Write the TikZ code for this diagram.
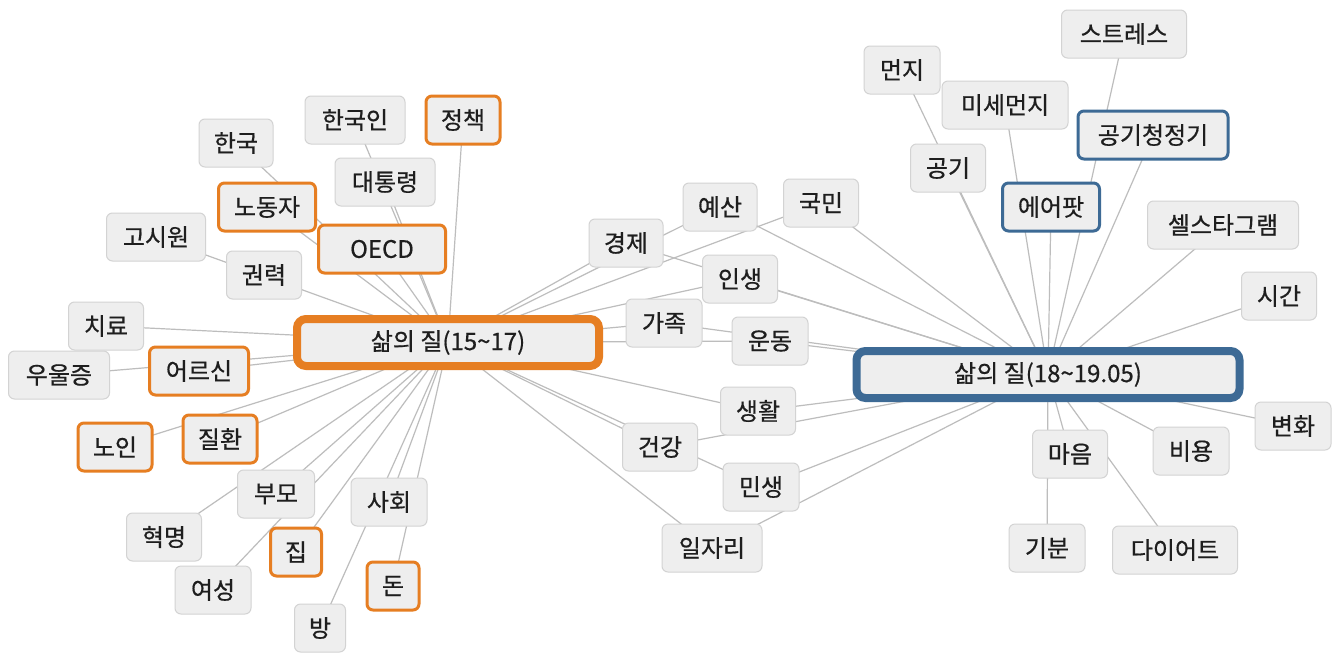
\documentclass[tikz,border=0pt]{standalone}
\usepackage{fontspec}
\setmainfont{Noto Sans CJK KR}
\newfontfamily\kf{Noto Sans CJK KR}[FakeBold=0.6]
\usetikzlibrary{backgrounds}
\definecolor{edgec}{HTML}{BDBDBD}
\definecolor{nfill}{HTML}{EEEEEE}
\definecolor{nline}{HTML}{D3D3D3}
\definecolor{orng}{HTML}{E67E22}
\definecolor{blu}{HTML}{3D6A95}
\definecolor{txt}{HTML}{1E1E1E}
\begin{document}
\begin{tikzpicture}[x=1pt,y=-1pt,
 kw/.style={draw=nline, line width=1pt, fill=nfill, rounded corners=6pt, minimum height=48pt, inner sep=0pt, text=txt, font=\kf\fontsize{24}{28}\selectfont},
 ow/.style={kw, draw=orng, line width=3pt},
 bw/.style={kw, draw=blu, line width=3pt},
 hub/.style={kw, line width=8pt, rounded corners=9pt, minimum height=47pt},
 lnk/.style={draw=edgec, line width=1.2pt}]
\useasboundingbox (0,0) rectangle (1342,654);

% hubs
\node[hub, draw=orng, minimum width=302pt] (L) at (448,342.5) {삶의 질(15\textasciitilde17)};
\node[hub, draw=blu, minimum width=383pt] (R) at (1048,374.5) {삶의 질(18\textasciitilde19.05)};

% left cluster
\node[kw, minimum width=74pt]  (hanguk)   at (236,143) {한국};
\node[kw, minimum width=100pt] (hangukin) at (355,120) {한국인};
\node[ow, minimum width=74pt]  (jeongchaek) at (463,120) {정책};
\node[ow, minimum width=97pt]  (nodongja) at (267,207) {노동자};
\node[kw, minimum width=100pt] (daetong)  at (385,182) {대통령};
\node[kw, minimum width=99pt]  (gosiwon)  at (156,237) {고시원};
\node[ow, minimum width=127pt] (oecd)     at (382,249) {OECD};
\node[kw, minimum width=75pt]  (gwonryeok) at (264,275) {권력};
\node[kw, minimum width=75pt]  (chiryo)   at (106,326) {치료};
\node[kw, minimum width=101pt] (uuljeung) at (59,375) {우울증};
\node[ow, minimum width=99pt]  (eoreusin) at (199,371) {어르신};
\node[ow, minimum width=74pt]  (noin)     at (115,447) {노인};
\node[ow, minimum width=74pt]  (jilhwan)  at (220,439) {질환};
\node[kw, minimum width=77pt]  (bumo)     at (276,494) {부모};
\node[kw, minimum width=76pt]  (sahoe)    at (389,502) {사회};
\node[kw, minimum width=75pt]  (hyeokmyeong) at (164,537) {혁명};
\node[ow, minimum width=51pt]  (jip)      at (296,552) {집};
\node[kw, minimum width=76pt]  (yeoseong) at (213,590) {여성};
\node[ow, minimum width=52pt]  (don)      at (393,586) {돈};
\node[kw, minimum width=51pt]  (bang)     at (320,628) {방};

% middle
\node[kw, minimum width=74pt]  (gyeongje) at (626,243) {경제};
\node[kw, minimum width=74pt]  (yesan)    at (720,207) {예산};
\node[kw, minimum width=75pt]  (gukmin)   at (821,203) {국민};
\node[kw, minimum width=75pt]  (insaeng)  at (740,279) {인생};
\node[kw, minimum width=76pt]  (gajok)    at (664,323) {가족};
\node[kw, minimum width=76pt]  (undong)   at (770,341) {운동};
\node[kw, minimum width=75pt]  (saenghwal) at (758,411) {생활};
\node[kw, minimum width=75pt]  (geongang) at (660,447) {건강};
\node[kw, minimum width=76pt]  (minsaeng) at (761,487) {민생};
\node[kw, minimum width=100pt] (iljari)   at (712,548) {일자리};

% right cluster
\node[kw, minimum width=125pt] (stress)   at (1124,34) {스트레스};
\node[kw, minimum width=76pt]  (meonji)   at (902,70) {먼지};
\node[kw, minimum width=126pt] (misemeonji) at (1005,105) {미세먼지};
\node[bw, minimum width=150pt] (cheongjeong) at (1153,135) {공기청정기};
\node[kw, minimum width=75pt]  (gonggi)   at (948,168) {공기};
\node[bw, minimum width=97pt]  (airpod)   at (1051,207) {에어팟};
\node[kw, minimum width=151pt] (selsta)   at (1223,225) {셀스타그램};
\node[kw, minimum width=75pt]  (sigan)    at (1279,296) {시간};
\node[kw, minimum width=76pt]  (byeonhwa) at (1293,426) {변화};
\node[kw, minimum width=76pt]  (biyong)   at (1191,451) {비용};
\node[kw, minimum width=75pt]  (maeum)    at (1070,454) {마음};
\node[kw, minimum width=76pt]  (gibun)    at (1047,548) {기분};
\node[kw, minimum width=125pt] (diet)     at (1175,550) {다이어트};

\begin{pgfonlayer}{background}
\fill[white] (0,0) rectangle (1342,654);
\foreach \n in {hangukin,daetong,hanguk,nodongja,oecd,jeongchaek,gosiwon,chiryo,uuljeung,eoreusin,noin,jilhwan,bumo,hyeokmyeong,yeoseong,jip,sahoe,bang,don,gyeongje,yesan,gukmin,insaeng,gajok,undong,saenghwal,geongang,minsaeng,iljari}
  \draw[lnk] (\n.center) -- (L.center);
\foreach \n in {yesan,gukmin,gyeongje,insaeng,gajok,undong,saenghwal,geongang,minsaeng,iljari,meonji,gonggi,misemeonji,airpod,stress,cheongjeong,selsta,sigan,byeonhwa,biyong,maeum,gibun,diet}
  \draw[lnk] (\n.center) -- (R.center);
\end{pgfonlayer}
\end{tikzpicture}
\end{document}
